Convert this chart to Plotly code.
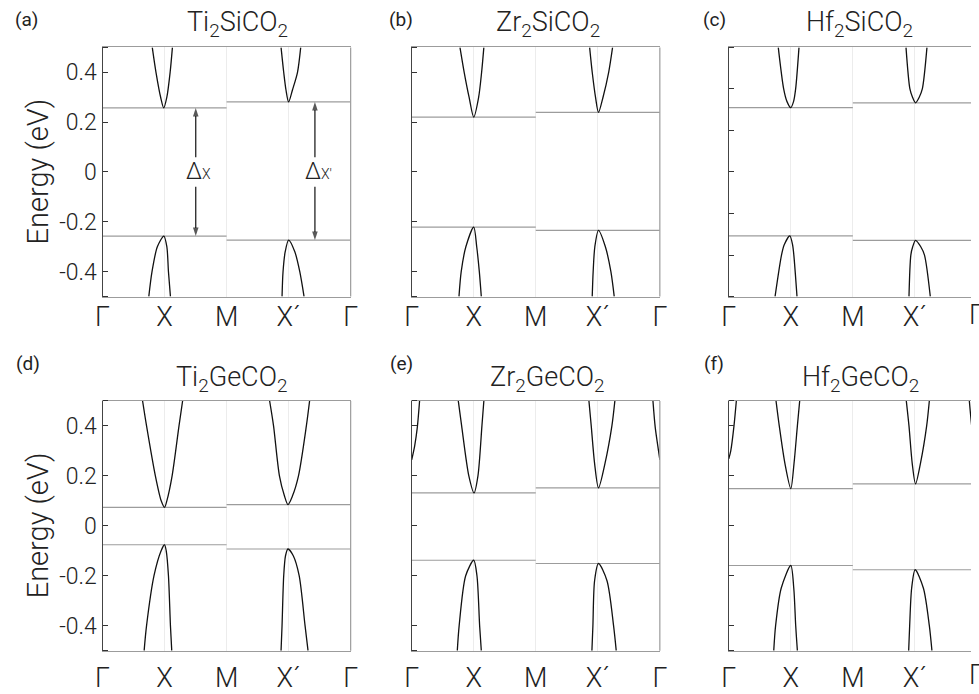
import plotly.graph_objects as go

# ---------------- data ----------------
kpath_pos = [0, 1, 2, 3, 4]
kpath_labels = ["Γ", "X", "M", "X´", "Γ"]

materials = ["Ti<sub>2</sub>SiCO<sub>2</sub>", "Zr<sub>2</sub>SiCO<sub>2</sub>", "Hf<sub>2</sub>SiCO<sub>2</sub>",
             "Ti<sub>2</sub>GeCO<sub>2</sub>", "Zr<sub>2</sub>GeCO<sub>2</sub>", "Hf<sub>2</sub>GeCO<sub>2</sub>"]
panel_tags = ["(a)", "(b)", "(c)", "(d)", "(e)", "(f)"]

# band edges (eV)
cb_x = [0.257, 0.220, 0.310, 0.074, 0.132, 0.149]
vb_x = [-0.257, -0.221, -0.308, -0.076, -0.138, -0.159]
cb_xp = [0.281, 0.239, 0.333, 0.085, 0.152, 0.168]
vb_xp = [-0.273, -0.234, -0.329, -0.093, -0.151, -0.176]
e_limit = [0.5, 0.5, 0.6, 0.5, 0.5, 0.5]

y_tick_vals = [-0.4, -0.2, 0, 0.2, 0.4]
y_tick_text = ["-0.4", "-0.2", "0", "0.2", "0.4"]
y_ticks_05 = [-0.5, -0.4, -0.2, 0, 0.2, 0.4, 0.5]
y_ticks_06 = [-0.6, -0.4, -0.2, 0, 0.2, 0.4, 0.6]

# (a) Ti2SiCO2
a_cbx_k = [0.802, 0.862, 0.937, 0.987, 1.037, 1.090, 1.127]
a_cbx_e = [0.5, 0.4, 0.3, 0.257, 0.3, 0.4, 0.5]
a_vbx_k = [0.746, 0.798, 0.884, 0.989, 1.037, 1.063, 1.095]
a_vbx_e = [-0.5, -0.4, -0.3, -0.257, -0.3, -0.4, -0.5]
a_cbxp_k = [2.878, 2.921, 2.957, 3.0, 3.063, 3.143, 3.195]
a_cbxp_e = [0.5, 0.4, 0.33, 0.281, 0.33, 0.4, 0.5]
a_vbxp_k = [2.894, 2.910, 2.945, 3.0, 3.100, 3.180, 3.249]
a_vbxp_e = [-0.5, -0.4, -0.32, -0.273, -0.32, -0.4, -0.5]

# (b) Zr2SiCO2
b_cbx_k = [0.778, 0.846, 0.925, 1.0, 1.079, 1.127, 1.163]
b_cbx_e = [0.5, 0.4, 0.3, 0.220, 0.3, 0.4, 0.5]
b_vbx_k = [0.762, 0.798, 0.873, 1.0, 1.048, 1.090, 1.122]
b_vbx_e = [-0.5, -0.4, -0.3, -0.221, -0.3, -0.4, -0.5]
b_cbxp_k = [2.868, 2.910, 2.963, 3.011, 3.084, 3.175, 3.238]
b_cbxp_e = [0.5, 0.4, 0.3, 0.239, 0.3, 0.4, 0.5]
b_vbxp_k = [2.910, 2.925, 2.952, 3.011, 3.122, 3.211, 3.265]
b_vbxp_e = [-0.5, -0.4, -0.3, -0.234, -0.3, -0.4, -0.5]

# (c) Hf2SiCO2
c_cbx_k = [0.798, 0.885, 0.937, 1.0, 1.045, 1.078, 1.132]
c_cbx_e = [0.6, 0.4, 0.34, 0.310, 0.34, 0.4, 0.6]
c_vbx_k = [0.746, 0.850, 0.894, 0.984, 1.028, 1.049, 1.100]
c_vbx_e = [-0.6, -0.4, -0.35, -0.308, -0.35, -0.4, -0.6]
c_cbxp_k = [2.857, 2.920, 2.962, 3.011, 3.070, 3.120, 3.195]
c_cbxp_e = [0.6, 0.4, 0.36, 0.333, 0.36, 0.4, 0.6]
c_vbxp_k = [2.905, 2.935, 2.965, 3.011, 3.095, 3.155, 3.249]
c_vbxp_e = [-0.6, -0.4, -0.36, -0.329, -0.36, -0.4, -0.6]

# (d) Ti2GeCO2
d_cbx_k = [0.646, 0.710, 0.852, 0.946, 1.0, 1.037, 1.122, 1.233, 1.291]
d_cbx_e = [0.5, 0.4, 0.2, 0.1, 0.074, 0.1, 0.2, 0.4, 0.5]
d_vbx_k = [0.671, 0.710, 0.830, 0.945, 1.0, 1.027, 1.063, 1.095, 1.116]
d_vbx_e = [-0.5, -0.4, -0.2, -0.1, -0.076, -0.1, -0.2, -0.4, -0.5]
d_cbxp_k = [2.694, 2.757, 2.852, 2.932, 2.989, 3.063, 3.159, 3.286, 3.338]
d_cbxp_e = [0.5, 0.4, 0.2, 0.12, 0.085, 0.12, 0.2, 0.4, 0.5]
d_vbxp_k = [2.878, 2.894, 2.921, 2.950, 2.989, 3.075, 3.170, 3.265, 3.313]
d_vbxp_e = [-0.5, -0.4, -0.2, -0.12, -0.093, -0.12, -0.2, -0.4, -0.5]

# (e) Zr2GeCO2
e_cbg1_k = [0.0, 0.048, 0.090, 0.127]
e_cbg1_e = [0.264, 0.32, 0.393, 0.5]
e_cbg2_k = [3.889, 3.926, 3.979, 4.0]
e_cbg2_e = [0.5, 0.393, 0.30, 0.264]
e_cbx_k = [0.751, 0.805, 0.921, 1.005, 1.068, 1.132, 1.163]
e_cbx_e = [0.5, 0.4, 0.2, 0.132, 0.2, 0.4, 0.5]
e_vbx_k = [0.735, 0.765, 0.870, 1.0, 1.052, 1.095, 1.122]
e_vbx_e = [-0.5, -0.4, -0.2, -0.138, -0.2, -0.4, -0.5]
e_cbxp_k = [2.857, 2.894, 2.948, 3.011, 3.116, 3.227, 3.275]
e_cbxp_e = [0.5, 0.4, 0.25, 0.152, 0.25, 0.4, 0.5]
e_vbxp_k = [2.905, 2.921, 2.948, 3.011, 3.148, 3.254, 3.297]
e_vbxp_e = [-0.5, -0.4, -0.22, -0.151, -0.22, -0.4, -0.5]

# (f) Hf2GeCO2
f_cbg1_k = [0.0, 0.032, 0.084, 0.122]
f_cbg1_e = [0.268, 0.3, 0.4, 0.5]
f_cbg2_k = [3.878, 3.916, 3.968, 4.0]
f_cbg2_e = [0.5, 0.4, 0.3, 0.268]
f_cbx_k = [0.762, 0.814, 0.905, 1.0, 1.052, 1.106, 1.143]
f_cbx_e = [0.5, 0.4, 0.25, 0.149, 0.25, 0.4, 0.5]
f_vbx_k = [0.725, 0.755, 0.845, 1.0, 1.048, 1.079, 1.106]
f_vbx_e = [-0.5, -0.4, -0.25, -0.159, -0.25, -0.4, -0.5]
f_cbxp_k = [2.862, 2.905, 2.957, 3.011, 3.090, 3.190, 3.233]
f_cbxp_e = [0.5, 0.4, 0.25, 0.168, 0.25, 0.4, 0.5]
f_vbxp_k = [2.900, 2.916, 2.948, 3.005, 3.138, 3.233, 3.275]
f_vbxp_e = [-0.5, -0.4, -0.25, -0.176, -0.25, -0.4, -0.5]

curves = [
    [(a_cbx_k, a_cbx_e), (a_vbx_k, a_vbx_e), (a_cbxp_k, a_cbxp_e), (a_vbxp_k, a_vbxp_e)],
    [(b_cbx_k, b_cbx_e), (b_vbx_k, b_vbx_e), (b_cbxp_k, b_cbxp_e), (b_vbxp_k, b_vbxp_e)],
    [(c_cbx_k, c_cbx_e), (c_vbx_k, c_vbx_e), (c_cbxp_k, c_cbxp_e), (c_vbxp_k, c_vbxp_e)],
    [(d_cbx_k, d_cbx_e), (d_vbx_k, d_vbx_e), (d_cbxp_k, d_cbxp_e), (d_vbxp_k, d_vbxp_e)],
    [(e_cbg1_k, e_cbg1_e), (e_cbg2_k, e_cbg2_e), (e_cbx_k, e_cbx_e), (e_vbx_k, e_vbx_e),
     (e_cbxp_k, e_cbxp_e), (e_vbxp_k, e_vbxp_e)],
    [(f_cbg1_k, f_cbg1_e), (f_cbg2_k, f_cbg2_e), (f_cbx_k, f_cbx_e), (f_vbx_k, f_vbx_e),
     (f_cbxp_k, f_cbxp_e), (f_vbxp_k, f_vbxp_e)],
]

# gap arrows in panel (a)
gap_arrow_k = [1.503, 3.424]
gap_arrow_gap = 0.059  # half-height of the space left for the label
gap_labels = ["Δ<span style='font-size:14px'>X</span>", "Δ<span style='font-size:14px'>X'</span>"]

# ---------------- layout geometry ----------------
W, H = 979, 694
col_px = [(97, 349), (411, 663), (733, 979)]
row_px = [(48, 300.5), (406.2, 659.2)]
row_label_standoff = [-4, 3]
seg_px = 63.0

FONT = "Roboto"
fig = go.Figure()

for i in range(6):
    r, c = divmod(i, 3)
    sfx = "" if i == 0 else str(i + 1)
    xa, ya = "x" + sfx, "y" + sfx
    fig.add_trace(go.Scatter(
        x=[kpath_pos[0], kpath_pos[2], None, kpath_pos[0], kpath_pos[2], None,
           kpath_pos[2], kpath_pos[4], None, kpath_pos[2], kpath_pos[4]],
        y=[cb_x[i], cb_x[i], None, vb_x[i], vb_x[i], None,
           cb_xp[i], cb_xp[i], None, vb_xp[i], vb_xp[i]],
        mode="lines", line=dict(color="#9c9c9c", width=1.2),
        xaxis=xa, yaxis=ya, hoverinfo="skip", showlegend=False))
    for k, e in curves[i]:
        fig.add_trace(go.Scatter(
            x=k, y=e, mode="lines",
            line=dict(color="#111111", width=1.3, shape="spline", smoothing=0.8),
            xaxis=xa, yaxis=ya, hoverinfo="skip", showlegend=False))

    x0, x1 = col_px[c]
    y0, y1 = row_px[r]
    xr = [0, 4] if c < 2 else [0, (W - x0) / seg_px]
    R = e_limit[i]
    all_ticks = y_ticks_05 if R == 0.5 else y_ticks_06
    yax = dict(
        domain=[1 - y1 / H, 1 - y0 / H], range=[-R, R], anchor=xa,
        ticks="", showline=True, linecolor="#444", linewidth=1.2, mirror=False,
        showgrid=False, zeroline=False,
        minor=dict(tickmode="array", tickvals=all_ticks, ticks="inside",
                   ticklen=5, tickcolor="#333", tickwidth=1, showgrid=False),
        tickfont=dict(family=FONT, size=23, color="#222", weight=300))
    if c == 0:
        yax.update(tickmode="array", tickvals=y_tick_vals, ticktext=y_tick_text,
                   showticklabels=True)
    else:
        yax.update(tickmode="array", tickvals=[], showticklabels=False)
    fig.layout["yaxis" + sfx] = yax

    visible_k = [kk for kk in kpath_pos if kk <= xr[1]]
    fig.layout["xaxis" + sfx] = dict(
        domain=[x0 / W, min(x1 / W, 1.0)], range=xr, anchor=ya,
        tickmode="array", tickvals=visible_k, ticktext=kpath_labels[:len(visible_k)],
        ticks="", showgrid=True, gridcolor="#ececec", gridwidth=1,
        showline=True, linecolor="#9c9c9c", linewidth=1.2, mirror=True,
        zeroline=False, ticklabelstandoff=row_label_standoff[r],
        tickfont=dict(family=FONT, size=27, color="#222", weight=300))
    if c < 2:
        fig.add_shape(type="line", xref=xa + " domain", yref=ya + " domain",
                      x0=1, x1=1, y0=0, y1=1, line=dict(color="#9c9c9c", width=1.2))

    tag_xy = [(20, 20), (400, 20), (719, 20), (21, 368), (401, 368), (718, 368)][i]
    fig.add_annotation(text=panel_tags[i], xref="paper", yref="paper",
                       x=tag_xy[0] / W, y=1 - tag_xy[1] / H, showarrow=False,
                       xanchor="center", yanchor="middle",
                       font=dict(family=FONT, size=19, color="#222"))
    title_x = [234, 549, 866, 228, 549, 867][i]
    title_y = [24, 24, 24, 384, 384, 384][i]
    fig.add_annotation(text=materials[i], xref="paper", yref="paper",
                       x=title_x / W, y=1 - title_y / H, showarrow=False,
                       xanchor="center", yanchor="middle",
                       font=dict(family=FONT, size=27, color="#222", weight=300))

# cut-off Γ labels at the right edge of the third column (as in the original figure)
for r, yc in enumerate([319, 684]):
    fig.add_annotation(text="Γ", xref="paper", yref="paper", x=(W + 6) / W,
                       y=1 - yc / H, showarrow=False,
                       xanchor="center", yanchor="middle",
                       font=dict(family=FONT, size=27, color="#222", weight=300))

# y-axis titles
for r in range(2):
    fig.add_annotation(text="Energy (eV)", xref="paper", yref="paper",
                       x=31 / W, y=1 - (row_px[r][0] + row_px[r][1]) / 2 / H,
                       textangle=-90, showarrow=False, xanchor="center", yanchor="middle",
                       font=dict(family=FONT, size=29, color="#222", weight=300))

# gap arrows in panel (a)
tops = [cb_x[0], cb_xp[0]]
bots = [vb_x[0], vb_xp[0]]
for k, top, bot, lab in zip(gap_arrow_k, tops, bots, gap_labels):
    for tail, tip in ((gap_arrow_gap, top), (-gap_arrow_gap, bot)):
        fig.add_trace(go.Scatter(
            x=[k, k], y=[tail, tip], mode="lines+markers",
            line=dict(color="#111", width=1.2),
            marker=dict(symbol=["circle", "arrow"], size=[0, 9], angleref="previous",
                        color="#111", line=dict(width=0)),
            xaxis="x", yaxis="y", hoverinfo="skip", showlegend=False))
    fig.add_annotation(x=k, y=0, xref="x", yref="y", text=lab, showarrow=False,
                       xanchor="left", yanchor="middle", xshift=-12,
                       font=dict(family=FONT, size=23, color="#222", weight=300))

fig.update_layout(width=W, height=H, margin=dict(l=0, r=0, t=0, b=0),
                  plot_bgcolor="white", paper_bgcolor="white",
                  font=dict(family=FONT, color="#222"))

fig.write_html("out.html")
